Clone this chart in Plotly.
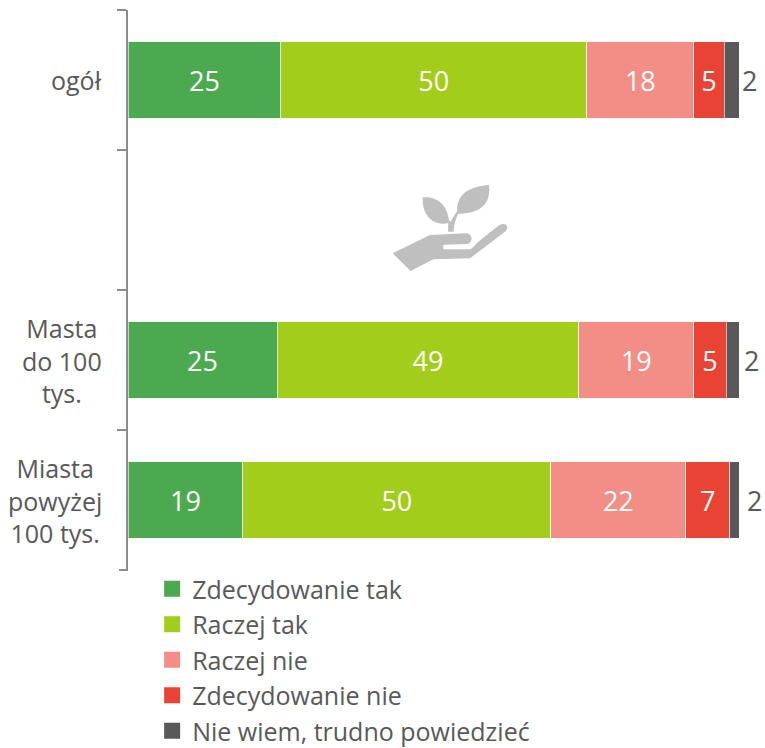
import plotly.graph_objects as go

categories = ["ogół", " ", "Masta<br>do 100<br>tys.", "Miasta<br>powyżej<br>100 tys."]
series_names = ["Zdecydowanie tak", "Raczej tak", "Raczej nie", "Zdecydowanie nie", "Nie wiem, trudno powiedzieć"]
colors = ["#4BAA4F", "#A2CD1A", "#F28E86", "#E94335", "#595959"]
# bar lengths (one entry per category)
zdecydowanie_tak = [25.0, None, 24.4, 18.8]
raczej_tak = [50.1, None, 49.4, 50.4]
raczej_nie = [17.5, None, 18.8, 22.1]
zdecydowanie_nie = [5.0, None, 5.3, 7.2]
nie_wiem = [2.4, None, 2.1, 1.5]
# printed labels
labels_tak = ["25", "", "25", "19"]
labels_raczej_tak = ["50", "", "49", "50"]
labels_raczej_nie = ["18", "", "19", "22"]
labels_nie = ["5", "", "5", "7"]
labels_nie_wiem = ["2", "", "2", "2"]

values = [zdecydowanie_tak, raczej_tak, raczej_nie, zdecydowanie_nie, nie_wiem]
labels = [labels_tak, labels_raczej_tak, labels_raczej_nie, labels_nie]

W, H = 765, 748
L, R, T, B = 128, 739, 10, 570
GREY = "#595959"
AXIS = "#8C8C8C"
FONT = "Open Sans"

fig = go.Figure()
for i, (name, col, vals) in enumerate(zip(series_names, colors, values)):
    fig.add_trace(go.Bar(
        name=name, y=categories, x=vals, orientation="h",
        marker=dict(color=col, line=dict(color="rgba(255,255,255,0.6)", width=1)),
        text=labels[i] if i < 4 else None,
        textposition="inside" if i < 4 else "none",
        insidetextanchor="middle", textangle=0, constraintext="none",
        insidetextfont=dict(family=FONT, size=27, color="white"),
        showlegend=False, hoverinfo="skip",
    ))
# legend entries
for name, col in zip(series_names, colors):
    fig.add_trace(go.Scatter(
        name=name, x=[None], y=[None], mode="markers",
        marker=dict(symbol="square", size=16, color=col), showlegend=True,
    ))

# the "2" labels beyond the end of the bars
for cat, lab, shift in zip(categories, labels_nie_wiem, [10, 0, 12, 15]):
    if lab:
        fig.add_annotation(x=100, y=cat, xref="x", yref="y", text=lab, showarrow=False,
                           xanchor="center", xshift=shift,
                           font=dict(family=FONT, size=27, color=GREY))
# category labels: centred lines in a right-aligned block
for cat in categories:
    if cat.strip():
        fig.add_annotation(x=0, y=cat, xref="paper", yref="y", text=cat, showarrow=False,
                           xanchor="right", xshift=-24, align="center",
                           font=dict(family=FONT, size=25, color=GREY))


def pt(zx, zy):
    px = 380 + zx / 3
    py = 170 + zy / 3
    return f"{(px - L) / (R - L):.5f},{1 - (py - T) / (B - T):.5f}"


def path(*cmds):
    out = []
    for c in cmds:
        if c[0] == "Z":
            out.append("Z")
        elif c[0] == "L":
            out.extend("L" + pt(*p) for p in c[1:])
        else:
            out.append(c[0] + " ".join(pt(*p) for p in c[1:]))
    return " ".join(out)


hand = path(("M", (38, 250)), ("L", (150, 195), (258, 190)), ("C", (280, 190), (280, 222), (258, 222)),
            ("L", (190, 224), (190, 238), (265, 238)), ("C", (280, 238), (285, 222), (295, 215)),
            ("L", (358, 165)), ("C", (378, 155), (390, 172), (375, 185)),
            ("L", (270, 265), (160, 268), (92, 303)), ("Z",))
left_leaf = path(("M", (128, 82)), ("C", (165, 78), (205, 100), (207, 158)), ("C", (175, 170), (125, 150), (128, 82)), ("Z",))
right_leaf = path(("M", (327, 45)), ("C", (270, 50), (225, 70), (232, 132)), ("C", (285, 130), (335, 115), (327, 45)), ("Z",))
stem = path(("M", (204, 185)), ("L", (205, 150), (212, 155)), ("C", (220, 140), (228, 125), (245, 110)),
            ("C", (232, 135), (222, 155), (221, 185)), ("Z",))
for d in [hand, left_leaf, right_leaf, stem]:
    fig.add_shape(type="path", path=d, xref="paper", yref="paper",
                  fillcolor="#BFBFBF", line=dict(width=0))
# closing tick at the bottom end of the axis
fig.add_shape(type="line", xref="paper", yref="paper", x0=-9 / (R - L), x1=0, y0=0, y1=0,
              line=dict(color=AXIS, width=2))

fig.update_layout(
    width=W, height=H, autosize=False, barmode="stack", bargap=0.457,
    paper_bgcolor="white", plot_bgcolor="white",
    margin=dict(l=L, r=W - R, t=T, b=H - B, pad=0, autoexpand=False),
    font=dict(family=FONT, color=GREY),
    xaxis=dict(range=[0, 100], visible=False, showgrid=False, zeroline=False),
    yaxis=dict(type="category", categoryorder="array", categoryarray=categories,
               range=[3.5, -0.5], showticklabels=False, tickson="boundaries", ticks="outside",
               ticklen=9, tickwidth=2, tickcolor=AXIS, showline=True, linecolor=AXIS,
               linewidth=2, showgrid=False, zeroline=False),
    legend=dict(x=0.0395, y=0.007, xanchor="left", yanchor="top", font=dict(family=FONT, size=25, color=GREY),
                bgcolor="rgba(0,0,0,0)", itemwidth=30, tracegroupgap=0, traceorder="normal"),
)
fig.write_html("out.html", config=dict(displayModeBar=False),
               post_script="document.body.style.margin='0';document.documentElement.style.overflow='hidden';")
